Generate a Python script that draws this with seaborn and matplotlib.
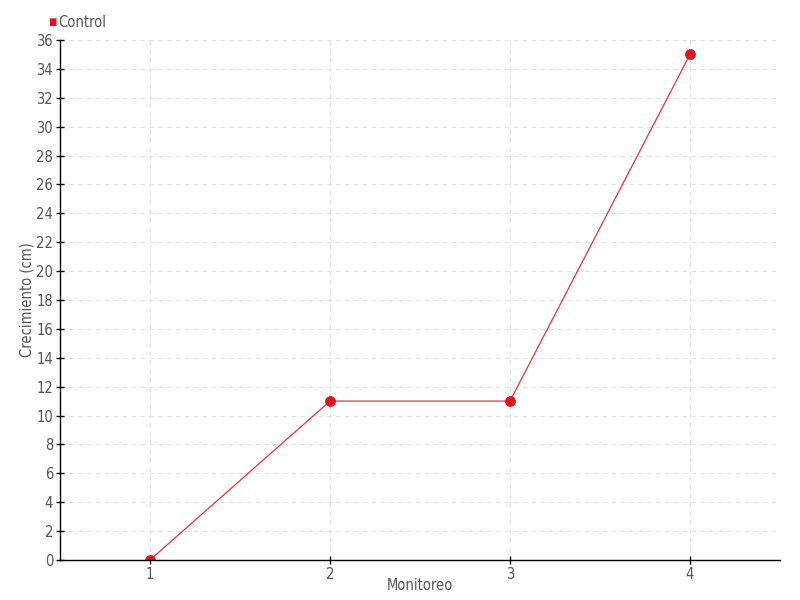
import pandas as pd
import matplotlib.pyplot as plt
import seaborn as sns

sns.set_style("white")
plt.rcParams['font.family'] = ['DejaVu Sans']
plt.rcParams['font.stretch'] = 'condensed'

monitoreo = [1, 2, 3, 4]
crecimiento = [0, 11, 11, 35]
serie = ["Control"] * 4

df = pd.DataFrame({"Monitoreo": monitoreo, "Crecimiento (cm)": crecimiento, "Serie": serie})

fig = plt.figure(figsize=(8, 6), dpi=100)
ax = fig.add_axes([0.075, 0.0667, 0.9, 0.8667])

sns.lineplot(data=df, x="Monitoreo", y="Crecimiento (cm)", hue="Serie",
             palette=["#f0303c"], marker="o", markersize=7, linewidth=0.9,
             markeredgecolor="#e0141e", markerfacecolor="#e0141e", ax=ax, legend=False)

ax.set_xlim(0.5, 4.5)
ax.set_ylim(0, 36)
ax.set_xticks(monitoreo)
ax.set_yticks(range(0, 37, 2))
ax.grid(True, color="#e2e2e2", linestyle=(0, (4, 4)), linewidth=0.8)
ax.set_axisbelow(True)

for s in ["top", "right"]:
    ax.spines[s].set_visible(False)
for s in ["left", "bottom"]:
    ax.spines[s].set_color("black")
    ax.spines[s].set_linewidth(1.0)

ax.tick_params(axis="both", direction="inout", length=6, width=1, color="black",
               labelcolor="#555555", labelsize=10.5, left=True, bottom=True, pad=2)
ax.set_xlabel("Monitoreo", color="#555555", fontsize=10.5, labelpad=-3)
ax.set_ylabel("Crecimiento (cm)", color="#555555", fontsize=10.5, labelpad=1)

fig.text(0.073, 0.963, "Control", color="#555555", fontsize=10.5, va="center", ha="left")
fig.text(0.0655, 0.963, "\u25a0", color="#e0141e", fontsize=7, va="center", ha="center")

fig.savefig("out.png", dpi=100)
